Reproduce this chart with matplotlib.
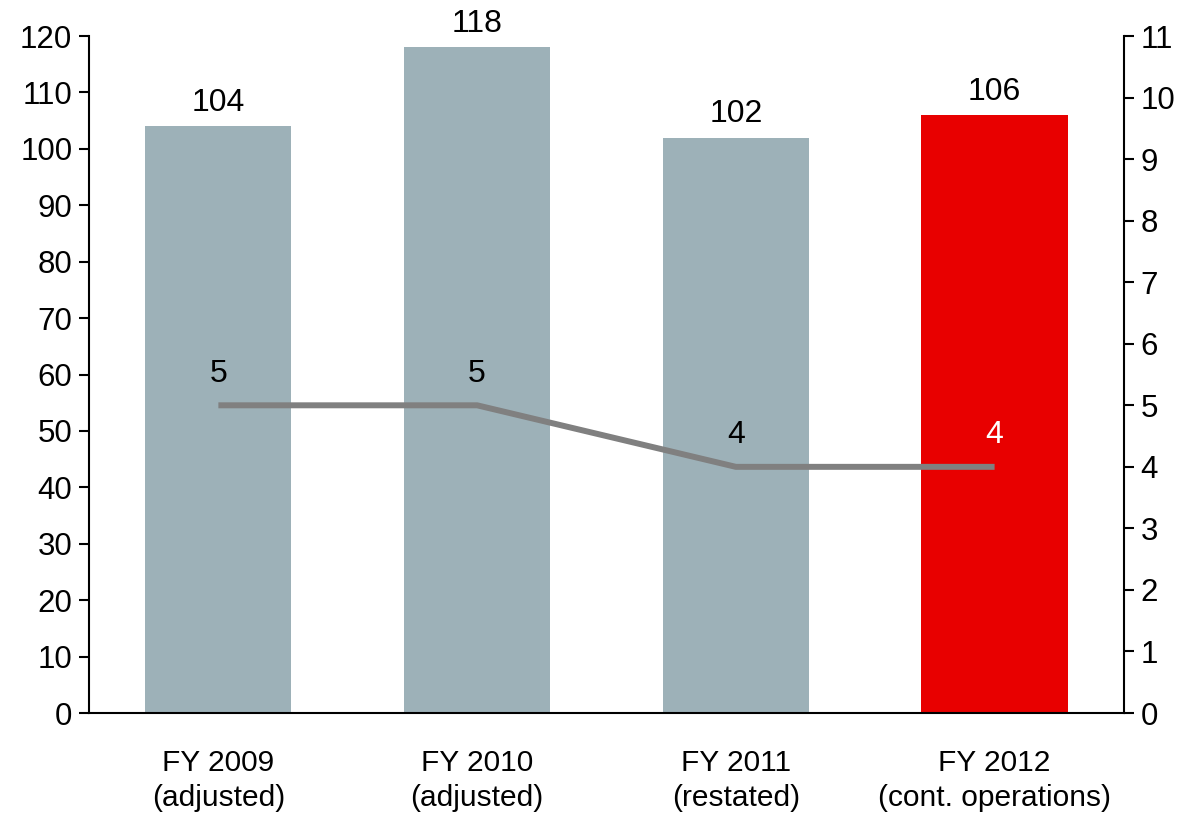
import matplotlib.pyplot as plt
import numpy as np

plt.rcParams['font.family'] = ['Liberation Sans', 'DejaVu Sans']

years = ['FY 2009\n(adjusted)', 'FY 2010\n(adjusted)', 'FY 2011\n(restated)', 'FY 2012\n(cont. operations)']
bar_values = [104, 118, 102, 106]
line_values = [5, 5, 4, 4]
bar_colors = ['#9db1b8', '#9db1b8', '#9db1b8', '#e80000']
line_label_colors = ['black', 'black', 'black', 'white']

x = np.arange(len(years))

fig = plt.figure(figsize=(11.9, 8.19), dpi=100)
ax = fig.add_axes([0.0748, 0.1294, 0.8697, 0.8266])
ax.bar(x, bar_values, width=0.565, color=bar_colors, zorder=1)
for xi, v in zip(x, bar_values):
    ax.annotate(str(v), (xi, v), xytext=(0, 6), textcoords='offset points',
                ha='center', va='bottom', fontsize=23)

ax.set_xlim(-0.5, 3.5)
ax.set_ylim(0, 120)
ax.set_yticks(np.arange(0, 121, 10))
ax.set_xticks(x)
ax.set_xticklabels(years, fontsize=21.5, linespacing=1.32)
ax.tick_params(axis='x', length=0, pad=26)
ax.tick_params(axis='y', length=7, width=1.5, labelsize=22.5, pad=5)
for side in ['top', 'right']:
    ax.spines[side].set_visible(False)
for side in ['left', 'bottom']:
    ax.spines[side].set_linewidth(1.5)

ax2 = ax.twinx()
ax2.plot(x, line_values, color='#808080', lw=4.3, solid_capstyle='butt', zorder=3)
for xi, v, c in zip(x, line_values, line_label_colors):
    ax2.annotate(str(v), (xi, v), xytext=(0, 12), textcoords='offset points',
                 ha='center', va='bottom', fontsize=23, color=c)
ax2.set_ylim(0, 11)
ax2.set_yticks(np.arange(0, 12, 1))
ax2.tick_params(axis='y', length=7, width=1.5, labelsize=22.5, pad=5)
for side in ['top', 'left', 'bottom']:
    ax2.spines[side].set_visible(False)
ax2.spines['right'].set_linewidth(1.5)

fig.savefig('out.png', dpi=100)
